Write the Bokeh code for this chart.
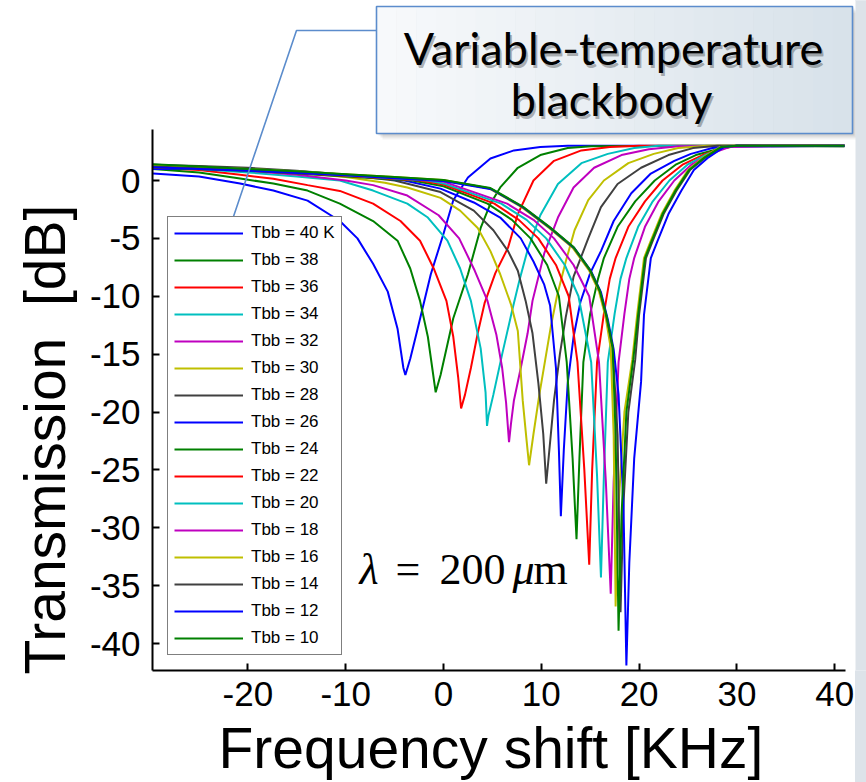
from bokeh.plotting import figure
from bokeh.models import Range1d, Legend, LegendItem, Label, FixedTicker, BoxAnnotation, Title
from bokeh.embed import file_html
from bokeh.resources import INLINE

# ---------------- data ----------------
temps = [40, 38, 36, 34, 32, 30, 28, 26, 24, 22, 20, 18, 16, 14, 12, 10]
legend_labels = ["Tbb = 40 K", "Tbb = 38", "Tbb = 36", "Tbb = 34", "Tbb = 32", "Tbb = 30",
                 "Tbb = 28", "Tbb = 26", "Tbb = 24", "Tbb = 22", "Tbb = 20", "Tbb = 18",
                 "Tbb = 16", "Tbb = 14", "Tbb = 12", "Tbb = 10"]

x40 = [-29.7,-25,-20.8,-17.4,-13.9,-10.6,-8.8,-7.2,-5.7,-4.7,-4.1,-3.9,-3.4,-2.7,-1.3,0.0,1.0,2.5,4.8,7.2,9.9,12.7,20,30,41]
y40 = [0.6,0.35,-0.26,-0.87,-1.74,-3.5,-5.0,-7.2,-9.6,-12.8,-16.2,-16.8,-15.4,-13.0,-8.1,-4.6,-1.7,0.26,1.9,2.6,2.9,3.0,3.0,2.95,3.0]

x38 = [-29.7,-25,-20.8,-17.4,-13.9,-10.6,-7.2,-4.7,-3.4,-2.4,-1.6,-1.1,-0.8,-0.3,1.0,2.5,3.8,4.8,5.8,7.6,9.9,12.7,15.1,25,41]
y38 = [1.0,0.7,0.17,-0.26,-0.87,-2.0,-3.5,-5.2,-7.6,-10.4,-13.5,-16.5,-18.3,-16.8,-11.9,-8.1,-4.1,-2.0,-0.6,1.1,2.2,2.8,2.95,3.0,2.95]

x36 = [-29.7,-25,-20.8,-17.4,-13.9,-10.6,-7.2,-4.4,-2.4,-1.0,0.3,1.0,1.5,1.8,2.2,2.8,3.5,4.2,5.3,6.6,7.6,9.2,11.3,14.1,17,20,41]
y36 = [1.1,0.9,0.5,0.15,-0.4,-0.9,-2.0,-3.5,-5.2,-7.6,-10.4,-13.5,-17.0,-19.7,-18.5,-16.2,-13.2,-10.6,-8.0,-5.8,-2.9,0.0,1.7,2.6,2.9,3.0,3.0]

x34 = [-29.7,-25,-20,-15,-10.6,-7.2,-3.7,-1.6,0.4,1.7,2.8,3.8,4.3,4.45,4.6,5.1,6.0,7.0,7.8,8.6,9.9,11.7,14.1,16.8,19.5,22,41]
y34 = [1.2,1.0,0.7,0.35,0.0,-0.87,-2.0,-3.2,-5.2,-7.6,-10.4,-14.5,-18.3,-21.2,-20.3,-18.5,-15.0,-11.3,-8.5,-6.0,-3.0,-0.3,1.5,2.3,2.8,3.0,3.0]

x32 = [-29.7,-25,-20,-15,-10,-7.2,-3.7,-0.5,1.6,3.2,4.5,5.4,6.0,6.4,6.7,6.9,7.2,7.9,8.6,9.1,10.3,11.7,13.3,15.4,18.2,21,24,41]
y32 = [1.25,1.1,0.85,0.5,0.0,-0.4,-1.3,-3.0,-5.0,-7.8,-10.4,-13.3,-16.2,-19.2,-22.6,-21.0,-19.0,-16.2,-13.2,-10.4,-6.3,-3.2,-0.6,1.1,2.2,2.7,2.95,3.0]

x30 = [-29.7,-25,-20,-15,-10,-6,-3.7,-0.3,1.7,3.5,4.8,5.8,6.9,7.6,8.1,8.5,8.75,9.2,9.8,10.4,11.0,11.6,12.5,13.4,14.8,16.4,18.9,21.5,24,27,41]
y30 = [1.3,1.2,1.0,0.7,0.3,-0.2,-0.6,-1.5,-2.6,-4.1,-6.1,-8.1,-10.7,-13.0,-19.0,-22.5,-24.6,-21.9,-18.5,-15.5,-12.5,-10.0,-7.0,-4.3,-1.7,0.0,1.5,2.3,2.8,3.0,3.0]

x28 = [-29.7,-25,-20,-15,-10,-5,-0.3,3.1,5.1,6.6,7.6,8.4,9.1,9.7,10.2,10.5,10.8,11.3,11.9,12.5,13.3,14.8,16.1,17.8,20.2,23.0,25.5,28,41]
y28 = [1.35,1.25,1.1,0.85,0.5,0.0,-1.0,-2.6,-4.3,-6.1,-7.8,-10.4,-13.2,-17.5,-21.9,-26.2,-23.5,-19.0,-15.0,-11.8,-8.3,-5.0,-2.3,-0.3,1.1,2.2,2.8,3.0,3.0]

x26 = [-29.7,-25,-20,-15,-10,-4,-0.3,3.1,5.8,7.9,9.2,10.3,10.9,11.5,11.8,12.0,12.3,12.7,13.3,14.0,15.0,16.1,17.4,19.2,21.2,23.6,25.3,27.5,30,41]
y26 = [1.0,1.0,0.95,0.8,0.5,0.0,-0.7,-1.9,-3.2,-5.0,-7.0,-9.0,-10.8,-16.2,-23.3,-29.0,-23.3,-17.5,-13.5,-10.5,-8.0,-6.1,-3.5,-1.1,0.6,1.7,2.3,2.8,3.0,3.0]

x24 = [-29.7,-25,-20,-15,-10,-3.2,0,4.5,7.0,8.9,10.6,11.8,12.6,13.2,13.6,13.9,14.3,15.0,15.8,16.4,17.8,19.6,21.6,23.8,25.8,28,30,41]
y24 = [1.1,1.0,0.85,0.6,0.35,0.0,-0.5,-2.0,-3.4,-5.0,-7.3,-10.0,-15.7,-24.0,-31.0,-24.0,-15.7,-11.5,-8.5,-6.7,-4.0,-1.8,0.0,1.4,2.2,2.7,3.0,3.0]

x22 = [-29.7,-25,-20,-15,-10,-2.4,0,5.2,7.7,9.7,11.5,12.8,13.7,14.4,14.9,15.2,15.7,16.4,17.0,17.6,18.9,20.6,22.4,24.5,26.5,28.5,30.5,41]
y22 = [1.15,1.05,0.9,0.65,0.4,0.0,-0.35,-2.0,-3.4,-5.0,-7.3,-10.0,-15.7,-25.0,-33.2,-25.0,-15.7,-11.5,-8.5,-6.7,-4.0,-1.8,0.0,1.4,2.2,2.8,3.0,3.0]

x20 = [-29.7,-25,-20,-15,-10,-1.6,0,5.9,8.5,10.5,12.4,13.8,15.1,15.7,16.1,16.4,16.8,17.5,18.1,18.7,19.9,21.4,23.1,25.0,27.0,29,41]
y20 = [1.2,1.05,0.9,0.7,0.45,0.0,-0.25,-2.0,-3.4,-5.0,-7.3,-10.0,-15.7,-25.5,-34.3,-25.5,-15.7,-11.5,-8.5,-6.7,-4.0,-1.8,0.0,1.4,2.3,2.9,3.0]

x18 = [-29.7,-25,-20,-15,-10,-0.8,0,6.5,9.2,11.3,13.3,14.9,15.9,16.6,17.1,17.4,17.9,18.5,19.0,19.5,20.6,22.0,23.6,25.4,27.3,29.3,41]
y18 = [1.25,1.1,0.95,0.75,0.5,0.0,-0.1,-2.0,-3.4,-5.0,-7.3,-10.0,-15.7,-26.0,-35.7,-26.0,-15.7,-11.5,-8.5,-6.7,-4.0,-1.8,0.0,1.4,2.3,2.9,3.0]

x16 = [-29.7,-25,-20,-15,-10,-5,0,4.7,8.0,10.8,13.2,14.9,15.9,16.6,17.1,17.4,17.6,17.9,18.5,19.3,19.8,20.5,21.2,22.3,23.6,25.0,26.6,28.3,30,41]
y16 = [1.3,1.15,1.0,0.8,0.55,0.3,0.05,-0.7,-2.3,-4.1,-5.8,-7.8,-9.6,-11.9,-14.5,-22.0,-36.8,-28.0,-20.0,-15.5,-11.6,-6.7,-5.2,-2.9,-0.9,0.9,2.0,2.9,3.0,3.0]

x14 = [-29.7,-25,-20,-15,-10,-5,0,4.8,8.1,10.9,13.3,15.0,16.0,16.7,17.3,17.8,18.1,18.4,18.9,19.6,20.0,20.7,21.4,22.5,23.8,25.2,26.8,28.5,30,41]
y14 = [1.2,1.05,0.9,0.7,0.5,0.25,0.0,-0.7,-2.3,-4.1,-5.8,-7.8,-9.6,-11.9,-14.5,-22.0,-37.3,-28.0,-20.0,-15.5,-11.6,-6.7,-5.2,-2.9,-0.9,0.9,2.0,2.9,3.0,2.95]

x12 = [-29.7,-25,-20,-15,-10,-5,0,4.9,8.2,11.0,13.4,15.1,16.1,16.8,17.4,17.9,18.4,18.7,19.0,19.5,20.2,20.5,21.2,21.9,23.0,24.3,25.6,27.1,28.7,30,41]
y12 = [1.15,1.0,0.85,0.65,0.45,0.2,-0.05,-0.75,-2.35,-4.15,-5.85,-7.85,-9.65,-12.0,-14.6,-18.5,-28.0,-41.9,-33.0,-24.0,-17.4,-11.6,-6.7,-5.2,-2.9,-0.9,0.9,2.0,2.9,3.0,3.0]

x10 = [-29.7,-25,-20,-15,-10,-5,0,4.8,8.1,10.9,13.3,15.0,16.0,16.7,17.3,17.6,17.9,18.2,18.7,19.4,19.9,20.6,21.3,22.4,23.7,25.1,26.7,28.4,30,41]
y10 = [1.4,1.2,1.0,0.8,0.55,0.3,0.05,-0.65,-2.25,-4.05,-5.75,-7.75,-9.55,-11.8,-14.4,-22.0,-38.9,-29.0,-20.0,-15.5,-11.6,-6.7,-5.2,-2.9,-0.9,0.9,2.0,2.9,3.0,3.0]

series_x = [x40, x38, x36, x34, x32, x30, x28, x26, x24, x22, x20, x18, x16, x14, x12, x10]
series_y = [y40, y38, y36, y34, y32, y30, y28, y26, y24, y22, y20, y18, y16, y14, y12, y10]

x_ticks = [-20, -10, 0, 10, 20, 30, 40]
y_ticks = [-40, -35, -30, -25, -20, -15, -10, -5, 0]

palette = ["#0000ff", "#008000", "#ff0000", "#00bfbf", "#bf00bf", "#bfbf00", "#404040"]

# ---------------- layout helpers (page pixel -> data) ----------------
X0_PX, X_SCALE = 443.0, 9.78
Y0_PX, Y_SCALE = 180.0, 11.575


def dx(px):
    return (px - X0_PX) / X_SCALE


def dy(py):
    return (Y0_PX - py) / Y_SCALE


W, H = 866, 782
FRAME_L, FRAME_R, FRAME_T, FRAME_B = 152, 866, 0, 670
STRIP_X = 855

p = figure(frame_width=FRAME_R - FRAME_L, frame_height=FRAME_B - FRAME_T,
           min_border_left=FRAME_L, min_border_right=0,
           min_border_top=0, min_border_bottom=H - FRAME_B,
           x_range=Range1d(dx(FRAME_L), dx(FRAME_R)),
           y_range=Range1d(dy(FRAME_B), dy(FRAME_T)),
           output_backend="svg", toolbar_location=None,
           background_fill_color="white", border_fill_alpha=0.0,
           styles={"background": "linear-gradient(to right, #ffffff %dpx, #dde3e9 %dpx)" % (STRIP_X, STRIP_X)})
p.outline_line_color = None
p.xgrid.visible = False
p.ygrid.visible = False

p.xaxis.bounds = (dx(FRAME_L), dx(845))
p.yaxis.bounds = (dy(FRAME_B), dy(129))
p.xaxis.ticker = FixedTicker(ticks=x_ticks)
p.yaxis.ticker = FixedTicker(ticks=y_ticks)
p.xaxis.major_label_overrides = {t: str(t) for t in x_ticks}
p.yaxis.major_label_overrides = {t: str(t) for t in y_ticks}

for ax in (p.xaxis[0], p.yaxis[0]):
    ax.axis_line_color = "black"
    ax.axis_line_width = 2
    ax.major_tick_in = 7
    ax.major_tick_out = 0
    ax.minor_tick_in = 0
    ax.minor_tick_out = 0
    ax.major_tick_line_width = 2
    ax.major_tick_line_color = "black"
    ax.major_label_text_font = "Liberation Sans"
    ax.major_label_text_font_size = "35px"
    ax.major_label_text_color = "black"
p.xaxis.major_label_standoff = 11
p.yaxis.major_label_standoff = 12

# axis titles, as side titles so they can be placed like the reference
xt = Title(text="Frequency shift [KHz]", align="left", offset=66, standoff=10,
           text_font="Liberation Sans", text_font_size="57px", text_font_style="normal",
           text_color="black")
p.add_layout(xt, "below")
yt = Title(text="Transmission\u00a0 [dB]", align="left", offset=-4, standoff=20,
           text_font="Liberation Sans", text_font_size="57px", text_font_style="normal",
           text_color="black")
p.add_layout(yt, "left")

# ---------------- curves ----------------
items = []
for i, (xs, ys) in enumerate(zip(series_x, series_y)):
    r = p.line(xs, ys, line_color=palette[i % len(palette)], line_width=2)
    items.append(LegendItem(label=legend_labels[i], renderers=[r]))

legend = Legend(items=items, location="bottom_left", margin=15, padding=6, spacing=7,
                label_text_font="Liberation Sans", label_text_font_size="17px",
                label_text_color="black",
                glyph_width=69, glyph_height=20, label_height=20, label_standoff=8,
                border_line_color="black", border_line_width=1.5,
                background_fill_color="white", background_fill_alpha=1.0)
p.add_layout(legend)

# ---------------- slide decoration ----------------
p.add_layout(BoxAnnotation(left=dx(STRIP_X), right=dx(880), bottom=dy(800), top=dy(-20),
                           fill_color="#dde3e9", fill_alpha=1.0, line_color=None))

BOX_L, BOX_R, BOX_T, BOX_B = 376, 852, 6, 133
for k, a in ((6, 0.05), (4, 0.07), (2, 0.09)):
    p.quad(left=[dx(BOX_L + k)], right=[dx(BOX_R + k)], top=[dy(BOX_T + k)], bottom=[dy(BOX_B + k)],
           fill_color="black", fill_alpha=a, line_color=None)


def mix(c1, c2, t):
    a = [int(c1[i:i + 2], 16) for i in (1, 3, 5)]
    b = [int(c2[i:i + 2], 16) for i in (1, 3, 5)]
    return "#%02x%02x%02x" % tuple(int(round(a[j] + (b[j] - a[j]) * t)) for j in range(3))


n_bands = 24
band_w = (BOX_R - BOX_L) / n_bands
for i in range(n_bands):
    p.quad(left=[dx(BOX_L + i * band_w)], right=[dx(BOX_L + (i + 1) * band_w + 0.5)],
           top=[dy(BOX_T)], bottom=[dy(BOX_B)],
           fill_color=mix("#f7f9fb", "#d8e2ea", i / (n_bands - 1)), line_color=None)
p.quad(left=[dx(BOX_L)], right=[dx(BOX_R)], top=[dy(BOX_T)], bottom=[dy(BOX_B)],
       fill_alpha=0, line_color="#5b8ccc", line_width=1.6)

p.line([dx(BOX_L), dx(296), dx(233)], [dy(30), dy(30), dy(216)],
       line_color="#5b8ccc", line_width=1.6)

for txt, cx, by in (("Variable-temperature", 613, 47), ("blackbody", 611, 98)):
    p.add_layout(Label(x=dx(cx), y=dy(by), text=txt, text_align="center",
                       text_baseline="alphabetic", text_font="Lato", text_font_size="45px",
                       text_color="black", text_alpha=0.28, x_offset=2, y_offset=-3))
    p.add_layout(Label(x=dx(cx), y=dy(by), text=txt, text_align="center",
                       text_baseline="alphabetic", text_font="Lato", text_font_size="45px",
                       text_color="black"))

# ---------------- lambda annotation ----------------
for txt, px, style in (("λ", 359, "italic"), ("=", 395, "normal"), ("200", 439, "normal"),
                       ("μ", 512, "italic"), ("m", 533, "normal")):
    p.add_layout(Label(x=dx(px), y=dy(569), text=txt, text_align="left",
                       text_baseline="alphabetic", text_font="Liberation Serif",
                       text_font_size="44px", text_font_style=style, text_color="black"))

open("out.html", "w").write(file_html(p, INLINE))
